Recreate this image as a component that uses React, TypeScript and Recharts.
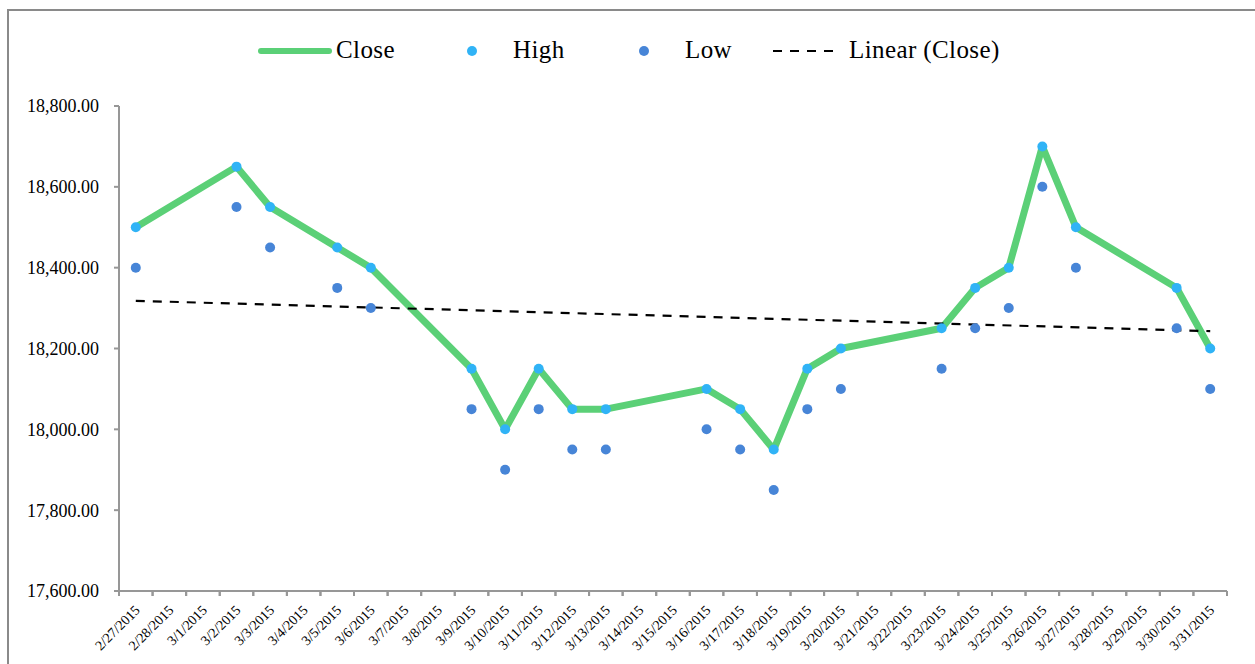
import React from 'react';
import { ComposedChart, Line, XAxis, YAxis } from 'recharts';

const dates = [
    '2/27/2015', '2/28/2015', '3/1/2015', '3/2/2015', '3/3/2015', '3/4/2015', '3/5/2015', '3/6/2015',
    '3/7/2015', '3/8/2015', '3/9/2015', '3/10/2015', '3/11/2015', '3/12/2015', '3/13/2015', '3/14/2015',
    '3/15/2015', '3/16/2015', '3/17/2015', '3/18/2015', '3/19/2015', '3/20/2015', '3/21/2015', '3/22/2015',
    '3/23/2015', '3/24/2015', '3/25/2015', '3/26/2015', '3/27/2015', '3/28/2015', '3/29/2015', '3/30/2015',
    '3/31/2015',
];

const closeValues = [
    18500, null, null, 18650, 18550, null, 18450, 18400, null, null, 18150, 18000, 18150, 18050, 18050, null,
    null, 18100, 18050, 17950, 18150, 18200, null, null, 18250, 18350, 18400, 18700, 18500, null, null, 18350,
    18200,
];

const highValues = [
    18500, null, null, 18650, 18550, null, 18450, 18400, null, null, 18150, 18000, 18150, 18050, 18050, null,
    null, 18100, 18050, 17950, 18150, 18200, null, null, 18250, 18350, 18400, 18700, 18500, null, null, 18350,
    18200,
];

const lowValues = [
    18400, null, null, 18550, 18450, null, 18350, 18300, null, null, 18050, 17900, 18050, 17950, 17950, null,
    null, 18000, 17950, 17850, 18050, 18100, null, null, 18150, 18250, 18300, 18600, 18400, null, null, 18250,
    18100,
];

// linear trend of Close, read at first and last date
const trendStart = 18318;
const trendEnd = 18243;

const yTicks = [17600, 17800, 18000, 18200, 18400, 18600, 18800];

const data = dates.map((date, i) => ({
    date,
    close: closeValues[i],
    high: highValues[i],
    low: lowValues[i],
    trend: i === 0 ? trendStart : i === dates.length - 1 ? trendEnd : null,
}));

const WIDTH = 1255;
const HEIGHT = 664;
const Y_AXIS_W = 119;
const MARGIN = { top: 106, right: 28, bottom: 0, left: 0 };
const BAND = (WIDTH - MARGIN.left - MARGIN.right - Y_AXIS_W) / dates.length;

const FONT = '"Palatino Linotype", "Book Antiqua", Palatino, "Liberation Serif", serif';
const AXIS_GRAY = '#979797';
const GREEN = '#5bd077';
const HIGH_BLUE = '#30b3f6';
const LOW_BLUE = '#4785d7';

const fmt = (v: number) => v.toLocaleString('en-US', { minimumFractionDigits: 2, maximumFractionDigits: 2 });

const DateTick = (props: any) => {
    const { x, y, payload } = props;
    return (
        <g>
            <line x1={x - BAND / 2} x2={x - BAND / 2} y1={y} y2={y + 5} stroke={AXIS_GRAY} strokeWidth={2} />
            <line x1={x + BAND / 2} x2={x + BAND / 2} y1={y} y2={y + 5} stroke={AXIS_GRAY} strokeWidth={2} />
            <text
                transform={`translate(${x + 5},${y + 20}) rotate(-45)`}
                textAnchor="end"
                fontSize={14}
                fontFamily={FONT}
                fill="#000"
            >
                {payload.value}
            </text>
        </g>
    );
};

function ChartLegend() {
    const text = {
        position: 'absolute' as const,
        top: 34,
        fontSize: 25,
        letterSpacing: '0.4px',
        fontFamily: FONT,
        color: '#000',
        lineHeight: '32px',
    };
    return (
        <div style={{ position: 'absolute', left: 0, top: 0, width: WIDTH, height: 90, pointerEvents: 'none' }}>
            <svg width={WIDTH} height={90} style={{ position: 'absolute', left: 0, top: 0 }}>
                <line x1={261} x2={329} y1={51} y2={51} stroke={GREEN} strokeWidth={6} strokeLinecap="round" />
                <circle cx={472} cy={51} r={5} fill={HIGH_BLUE} />
                <circle cx={644} cy={51} r={5} fill={LOW_BLUE} />
                <line x1={773} x2={836} y1={51} y2={51} stroke="#000" strokeWidth={2.2} strokeDasharray="9 8" />
            </svg>
            <span style={{ ...text, left: 336 }}>Close</span>
            <span style={{ ...text, left: 513 }}>High</span>
            <span style={{ ...text, left: 685 }}>Low</span>
            <span style={{ ...text, left: 849 }}>Linear (Close)</span>
        </div>
    );
}

export default function App() {
    return (
        <div style={{ position: 'relative', width: WIDTH, height: HEIGHT, overflow: 'hidden', background: '#fff' }}>
            <style>{'body{margin:0;overflow:hidden}'}</style>
            <div
                style={{
                    position: 'absolute',
                    left: 7,
                    top: 9,
                    width: WIDTH,
                    height: HEIGHT,
                    borderLeft: '2px solid #8a8a8a',
                    borderTop: '2px solid #8a8a8a',
                }}
            />
            <ComposedChart
                width={WIDTH}
                height={HEIGHT}
                data={data}
                margin={MARGIN}
                style={{ position: 'absolute', left: 0, top: 0 }}
            >
                <XAxis
                    dataKey="date"
                    scale="band"
                    interval={0}
                    height={73}
                    tickSize={0}
                    tickMargin={0}
                    tickLine={false}
                    axisLine={{ stroke: AXIS_GRAY, strokeWidth: 2 }}
                    tick={<DateTick />}
                />
                <YAxis
                    width={Y_AXIS_W}
                    domain={[17600, 18800]}
                    ticks={yTicks}
                    interval={0}
                    tickFormatter={fmt}
                    tickSize={5}
                    tickMargin={15}
                    axisLine={{ stroke: AXIS_GRAY, strokeWidth: 2 }}
                    tickLine={{ stroke: AXIS_GRAY, strokeWidth: 2 }}
                    tick={{ fill: '#000', fontSize: 18, fontFamily: FONT }}
                />
                <Line
                    type="linear"
                    dataKey="close"
                    stroke={GREEN}
                    strokeWidth={7}
                    strokeLinejoin="round"
                    strokeLinecap="round"
                    connectNulls
                    dot={false}
                    activeDot={false}
                    isAnimationActive={false}
                />
                <Line
                    dataKey="high"
                    stroke="none"
                    strokeWidth={0}
                    dot={{ r: 5, fill: HIGH_BLUE, stroke: 'none' }}
                    activeDot={false}
                    isAnimationActive={false}
                />
                <Line
                    dataKey="low"
                    stroke="none"
                    strokeWidth={0}
                    dot={{ r: 5, fill: LOW_BLUE, stroke: 'none' }}
                    activeDot={false}
                    isAnimationActive={false}
                />
                <Line
                    type="linear"
                    dataKey="trend"
                    stroke="#000"
                    strokeWidth={2.2}
                    strokeDasharray="9 8"
                    connectNulls
                    dot={false}
                    activeDot={false}
                    isAnimationActive={false}
                />
            </ComposedChart>
            <ChartLegend />
        </div>
    );
}
